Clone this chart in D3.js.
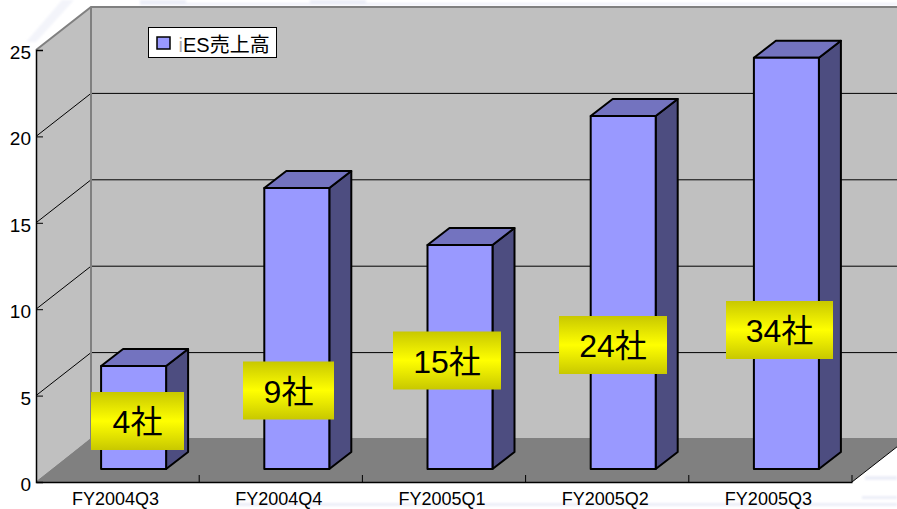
<!DOCTYPE html>
<html>
<head>
<meta charset="utf-8">
<script src="https://cdn.jsdelivr.net/npm/d3@7"></script>
<style>
  html, body { margin: 0; padding: 0; background: #fff; overflow: hidden; }
  text { font-family: "Liberation Sans", "Noto Sans CJK JP", sans-serif; fill: #000; }
</style>
</head>
<body>
<svg id="chart" width="897" height="509"></svg>
<script>
// chart data
const categories = ["FY2004Q3", "FY2004Q4", "FY2005Q1", "FY2005Q2", "FY2005Q3"];
const sales = [5.96, 16.26, 12.96, 20.43, 23.8];
const companyLabels = ["4社", "9社", "15社", "24社", "34社"];
const yTicks = [0, 5, 10, 15, 20, 25];
const legendPrefix = "i";
const legendLabel = "ES売上高";

// layout of the yellow callouts, they sit by hand on the original
const labelCentreX = [137.5, 288.5, 447, 613, 779.5];
const labelCentreY = [421, 390.5, 360.5, 345, 330];
const labelWidth = [93, 91, 108, 108, 107];

// faint watermark behind the chart: x, y, w, h
const watermark = [
    [140, 0, 46, 5], [310, 0, 56, 5], [186, 3, 711, 2],
    [235, 503, 662, 3], [865, 476, 32, 4], [862, 496, 35, 3]
];

// plot frame and the 3d depth offset
const margin = {top: 50, right: 45, bottom: 27, left: 36},
    width = 897,
    height = 509,
    depthX = 55,
    depthY = 43;

const x = d3.scaleBand()
    .domain(categories)
    .range([margin.left, width - margin.right]);

const y = d3.scaleLinear()
    .domain([0, 25])
    .range([height - margin.bottom, margin.top]);

const svg = d3.select("#chart");

const defs = svg.append("defs");

// gradient for the callouts
const grad = defs.append("linearGradient")
    .attr("id", "labelGrad")
    .attr("x1", 0).attr("y1", 0).attr("x2", 0).attr("y2", 1);
grad.append("stop").attr("offset", "0").attr("stop-color", "#c8c800");
grad.append("stop").attr("offset", "0.5").attr("stop-color", "#ffff00");
grad.append("stop").attr("offset", "1").attr("stop-color", "#c8c800");

defs.append("filter").attr("id", "soft")
    .append("feGaussianBlur").attr("stdDeviation", 1);

svg.append("g")
    .attr("filter", "url(#soft)")
    .selectAll("rect")
    .data(watermark)
    .enter().append("rect")
    .attr("x", function (d) { return d[0]; })
    .attr("y", function (d) { return d[1]; })
    .attr("width", function (d) { return d[2]; })
    .attr("height", function (d) { return d[3]; })
    .attr("fill", "#eceef8");
svg.append("polygon")
    .attr("points", "62,0 74,0 36,42 26,42")
    .attr("fill", "#f3f4fa")
    .attr("filter", "url(#soft)");

const left = margin.left,
    right = width - margin.right,
    y0 = y(0),
    yTop = y(25);

// left wall, back wall, floor
svg.append("polygon")
    .attr("points", [[left, y0], [left, yTop], [left + depthX, yTop - depthY], [left + depthX, y0 - depthY]].join(" "))
    .attr("fill", "#c0c0c0");
svg.append("rect")
    .attr("x", left + depthX).attr("y", yTop - depthY)
    .attr("width", width - left - depthX).attr("height", y0 - yTop)
    .attr("fill", "#c0c0c0");
svg.append("polygon")
    .attr("points", [[left, y0], [left + depthX, y0 - depthY - 1], [width, y0 - depthY - 1], [width, y0 - (width - right) * depthY / depthX], [right, y0]].join(" "))
    .attr("fill", "#808080");

// gridlines run along the side wall then the back wall
yTicks.slice(1, -1).forEach(function (t) {
    svg.append("line")
        .attr("x1", left).attr("y1", y(t))
        .attr("x2", left + depthX).attr("y2", y(t) - depthY)
        .attr("stroke", "#000");
    svg.append("line")
        .attr("x1", left + depthX).attr("y1", y(t) - depthY)
        .attr("x2", width).attr("y2", y(t) - depthY)
        .attr("stroke", "#000");
});

// grey edges of the walls
svg.append("path")
    .attr("d", d3.line()([[left, yTop], [left + depthX, yTop - depthY], [width, yTop - depthY]]))
    .attr("fill", "none").attr("stroke", "#808080").attr("stroke-width", 2);
svg.append("line")
    .attr("x1", left + depthX).attr("y1", yTop - depthY)
    .attr("x2", left + depthX).attr("y2", y0 - depthY)
    .attr("stroke", "#808080").attr("stroke-width", 2);
svg.append("line")
    .attr("x1", left).attr("y1", y0)
    .attr("x2", left + depthX).attr("y2", y0 - depthY)
    .attr("stroke", "#808080");
svg.append("line")
    .attr("x1", right).attr("y1", y0)
    .attr("x2", width).attr("y2", y0 - (width - right) * depthY / depthX)
    .attr("stroke", "#000");

// axes
const yAxis = svg.append("g")
    .attr("transform", "translate(" + left + ",0)")
    .call(d3.axisLeft(y).tickValues(yTicks).tickSize(-7).tickPadding(5));
yAxis.selectAll("text").style("font-size", "19px").attr("dy", "0.45em");
yAxis.select(".domain").attr("stroke-width", 1.5);

const xAxis = svg.append("g")
    .attr("transform", "translate(0," + y0 + ")")
    .call(d3.axisBottom(x).tickSize(0).tickPadding(10));
xAxis.selectAll("text").style("font-size", "18px").attr("dx", -2);
xAxis.select(".domain").attr("stroke-width", 1.5);

// axis ticks sit between the categories
svg.selectAll(".catTick")
    .data(categories)
    .enter().append("line")
    .attr("class", "catTick")
    .attr("x1", function (d) { return x(d) + x.step(); })
    .attr("x2", function (d) { return x(d) + x.step(); })
    .attr("y1", y0)
    .attr("y2", y0 - 7)
    .attr("stroke", "#000");

// bars, pushed back a bit from the front of the floor
const barW = 65,
    barDX = 22,
    barDY = 17,
    baseDX = 16,
    baseDY = 13;

const bars = svg.selectAll(".bar")
    .data(categories.map(function (c, i) { return {cat: c, val: sales[i]}; }))
    .enter().append("g")
    .attr("class", "bar")
    .attr("stroke", "#000")
    .attr("stroke-width", 2)
    .attr("stroke-linejoin", "round");

function barLeft(d) { return x(d.cat) + x.bandwidth() / 2 + baseDX - barW / 2; }
function barBase() { return y0 - baseDY; }
function barTop(d) { return barBase() - (y0 - y(d.val)); }

bars.append("polygon")
    .attr("fill", "#4d4d80")
    .attr("points", function (d) {
        const r = barLeft(d) + barW;
        return [[r, barTop(d)], [r + barDX, barTop(d) - barDY], [r + barDX, barBase() - barDY], [r, barBase()]].join(" ");
    });
bars.append("polygon")
    .attr("fill", "#7373bf")
    .attr("points", function (d) {
        const l = barLeft(d), t = barTop(d);
        return [[l, t], [l + barDX, t - barDY], [l + barW + barDX, t - barDY], [l + barW, t]].join(" ");
    });
bars.append("rect")
    .attr("fill", "#9999ff")
    .attr("x", barLeft)
    .attr("y", barTop)
    .attr("width", barW)
    .attr("height", function (d) { return barBase() - barTop(d); });

// legend
const legend = svg.append("g");
legend.append("rect")
    .attr("x", 148.5).attr("y", 27.5)
    .attr("width", 128).attr("height", 30)
    .attr("fill", "#fff").attr("stroke", "#000");
legend.append("rect")
    .attr("x", 157).attr("y", 37)
    .attr("width", 13).attr("height", 12)
    .attr("fill", "#9999ff").attr("stroke", "#000").attr("stroke-width", 1.5);
const legendText = legend.append("text")
    .attr("x", 178.5).attr("y", 52)
    .style("font-size", "20px");
// the i is nearly clipped away in the original
legendText.append("tspan").style("fill", "#aaa").text(legendPrefix);
legendText.append("tspan").text(legendLabel);

// yellow callouts
const callouts = svg.selectAll(".callout")
    .data(companyLabels)
    .enter().append("g")
    .attr("class", "callout");
callouts.append("rect")
    .attr("x", function (d, i) { return labelCentreX[i] - labelWidth[i] / 2; })
    .attr("y", function (d, i) { return labelCentreY[i] - 29; })
    .attr("width", function (d, i) { return labelWidth[i]; })
    .attr("height", 58)
    .attr("fill", "url(#labelGrad)");
callouts.append("text")
    .attr("x", function (d, i) { return labelCentreX[i]; })
    .attr("y", function (d, i) { return labelCentreY[i] + 12; })
    .attr("text-anchor", "middle")
    .style("font-size", "32px")
    .text(function (d) { return d; });
</script>
</body>
</html>
